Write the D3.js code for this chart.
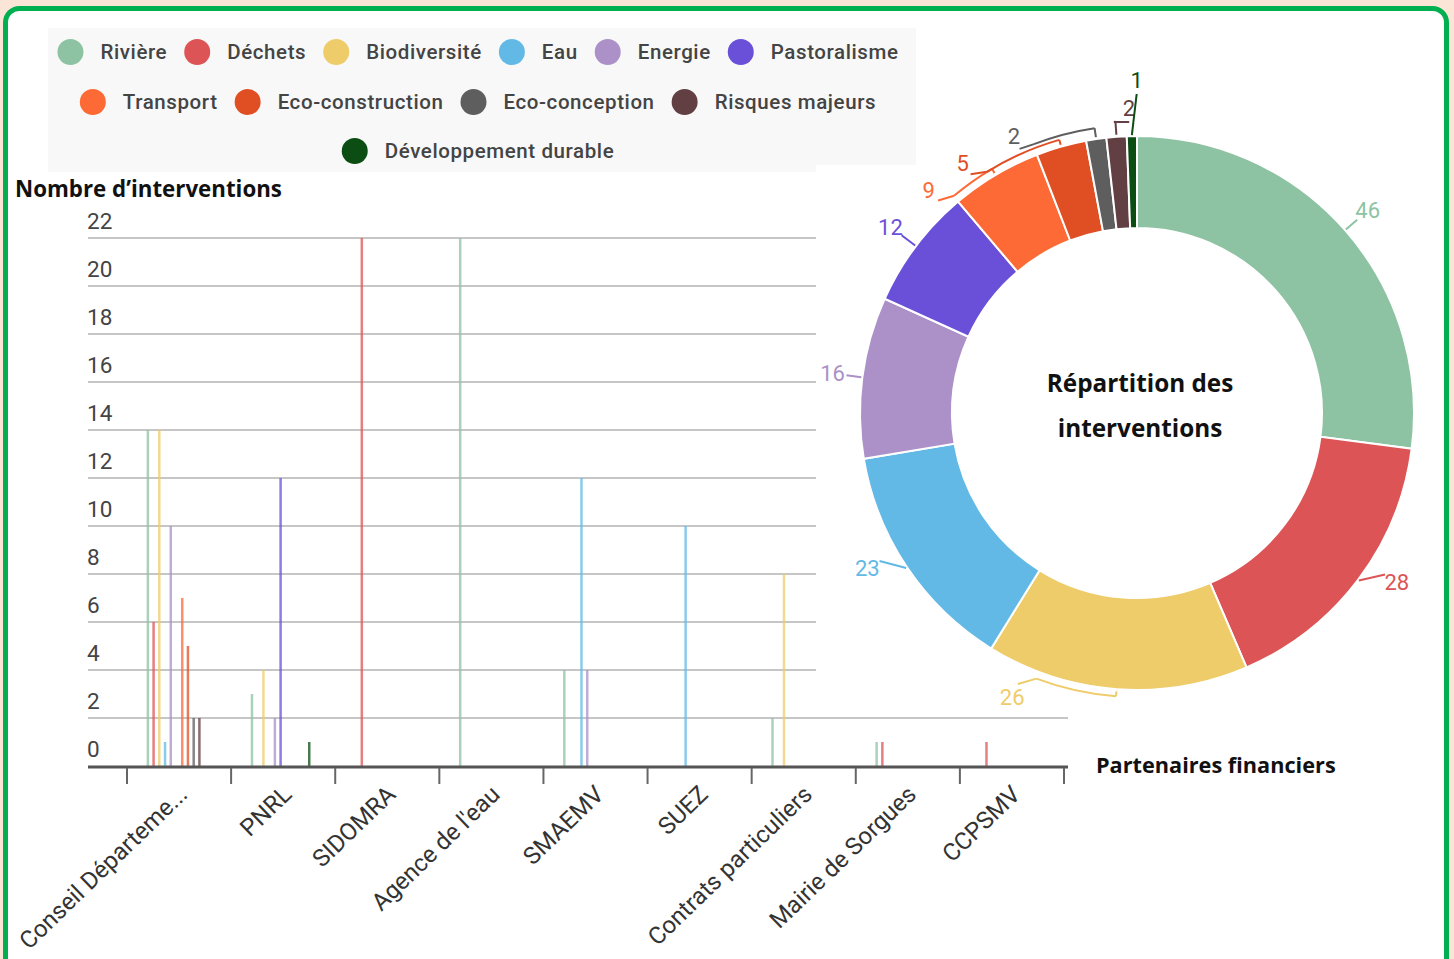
<!DOCTYPE html>
<html>
<head>
<meta charset="utf-8">
<script src="https://cdn.jsdelivr.net/npm/d3@7"></script>
<style>
	body { margin: 0; background: #fbe5d6; }
	svg { display: block; }
	text { font-family: Roboto, "Noto Sans", sans-serif; }
	.title { font-family: "Open Sans", "Noto Sans", sans-serif; font-weight: 700; fill: #111; }
</style>
</head>
<body>
<div id="chart"></div>
<script>

// partenaires financiers (x axis)
var categories = ["Conseil Départeme...", "PNRL", "SIDOMRA", "Agence de l'eau", "SMAEMV", "SUEZ", "Contrats particuliers", "Mairie de Sorgues", "CCPSMV"]

var series = ["Rivière", "Déchets", "Biodiversité", "Eau", "Energie", "Pastoralisme", "Transport", "Eco-construction", "Eco-conception", "Risques majeurs", "Développement durable"]

var colors = ["#8dc3a3", "#dc5455", "#efcc6a", "#62b9e5", "#ab91c8", "#6a50d8", "#fe6a35", "#e04f23", "#5e5e5e", "#613f42", "#0b4d13"]

// nombre d'interventions par partenaire, une liste par thème
var riviere         = [14, 3, 0, 22, 4, 0, 2, 1, 0]
var dechets         = [6, 0, 22, 0, 0, 0, 0, 1, 1]
var biodiversite    = [14, 4, 0, 0, 0, 0, 8, 0, 0]
var eau             = [1, 0, 0, 0, 12, 10, 0, 0, 0]
var energie         = [10, 2, 0, 0, 4, 0, 0, 0, 0]
var pastoralisme    = [0, 12, 0, 0, 0, 0, 0, 0, 0]
var transport       = [7, 0, 0, 0, 0, 0, 0, 0, 0]
var ecoConstruction = [5, 0, 0, 0, 0, 0, 0, 0, 0]
var ecoConception   = [2, 0, 0, 0, 0, 0, 0, 0, 0]
var risques         = [2, 0, 0, 0, 0, 0, 0, 0, 0]
var developpement   = [0, 1, 0, 0, 0, 0, 0, 0, 0]

// répartition des interventions (donut)
var repartition = [46, 28, 26, 23, 16, 12, 9, 5, 2, 2, 1]

var yTicks = [0, 2, 4, 6, 8, 10, 12, 14, 16, 18, 20, 22]

var valuesBySeries = [riviere, dechets, biodiversite, eau, energie, pastoralisme, transport, ecoConstruction, ecoConception, risques, developpement]

// label placement tweaks for the donut (degrees / px)
var labelNudge = [
	{ a: 0, r: 0 }, { a: -4, r: 3 }, { a: 19.5, r: 3, bracket: 7 }, { a: 4, r: 4 },
	{ a: 0, r: 0 }, { a: 0, r: 2 }, { a: -12.4, r: -2, bracket: 7 }, { a: -19, r: -2, bracket: 7 },
	{ a: -15.5, r: -4, bracket: 11 }, { a: 2.7, r: -2, bracket: 15 }, { a: 1, r: 26 }
]

var width = 1454, height = 959

var svg = d3.select("#chart").append("svg")
	.attr("width", width)
	.attr("height", height)

// frame
svg.append("rect")
	.attr("x", 5.5)
	.attr("y", 8.5)
	.attr("width", 1441)
	.attr("height", 980)
	.attr("rx", 14)
	.attr("fill", "#ffffff")
	.attr("stroke", "#00b050")
	.attr("stroke-width", 5)

// legend
svg.append("rect")
	.attr("x", 48)
	.attr("y", 28)
	.attr("width", 868)
	.attr("height", 144)
	.attr("fill", "#f8f8f8")

var legendRows = [series.slice(0, 6), series.slice(6, 10), series.slice(10)]
var legendY = [52, 102, 151]
var legendCenter = 478
var legendGap = 17

legendRows.forEach(function(row, r) {

	var g = svg.append("g")

	var x = 0

	row.forEach(function(name) {

		var i = series.indexOf(name)

		var item = g.append("g").attr("transform", "translate(" + x + ",0)")

		item.append("circle")
			.attr("cx", 13)
			.attr("cy", 0)
			.attr("r", 13)
			.attr("fill", colors[i])

		var t = item.append("text")
			.attr("x", 43)
			.attr("y", 0)
			.attr("dy", "0.36em")
			.attr("font-size", 20.5)
			.attr("font-weight", 500)
			.attr("letter-spacing", 0.6)
			.attr("fill", "#444")
			.text(name)

		x += 43 + t.node().getComputedTextLength() + legendGap

	})

	x -= legendGap

	g.attr("transform", "translate(" + (legendCenter - x / 2) + "," + legendY[r] + ")")

})

// bar chart
var yScale = d3.scaleLinear()
	.domain([0, 22])
	.range([766, 238])

var x0 = d3.scaleBand()
	.domain(categories)
	.range([127, 1064])

var x1 = d3.scaleBand()
	.domain(series)
	.range([18, 81])

svg.append("text")
	.attr("class", "title")
	.attr("x", 15)
	.attr("y", 197)
	.attr("font-size", 22.3)
	.text("Nombre d’interventions")

svg.selectAll(".grid")
	.data(yTicks.filter(function(d) { return d > 0 }))
	.enter()
	.append("line")
	.attr("class", "grid")
	.attr("x1", 88)
	.attr("x2", 1068)
	.attr("y1", function(d) { return yScale(d) })
	.attr("y2", function(d) { return yScale(d) })
	.attr("stroke", "#c6c6c6")
	.attr("stroke-width", 2)

svg.selectAll(".ylabel")
	.data(yTicks)
	.enter()
	.append("text")
	.attr("class", "ylabel")
	.attr("x", 87)
	.attr("y", function(d) { return yScale(d) - 9 })
	.attr("font-size", 22.5)
	.attr("fill", "#444")
	.text(function(d) { return d })

var bars = []

valuesBySeries.forEach(function(vals, s) {
	vals.forEach(function(v, c) {
		if (v > 0) bars.push({ cat: categories[c], serie: series[s], color: colors[s], value: v })
	})
})

svg.selectAll(".bar")
	.data(bars)
	.enter()
	.append("rect")
	.attr("class", "bar")
	.attr("x", function(d) { return x0(d.cat) + x1(d.serie) + x1.bandwidth() / 2 - 1.25 })
	.attr("y", function(d) { return yScale(d.value) })
	.attr("width", 2.5)
	.attr("height", function(d) { return yScale(0) - yScale(d.value) })
	.attr("fill", function(d) { return d.color })
	.attr("opacity", 0.75)

// x axis
svg.append("line")
	.attr("x1", 88)
	.attr("x2", 1068)
	.attr("y1", yScale(0) + 1)
	.attr("y2", yScale(0) + 1)
	.attr("stroke", "#555")
	.attr("stroke-width", 3)

var tickPos = categories.map(function(c) { return x0(c) }).concat([x0.range()[1]])

svg.selectAll(".xtick")
	.data(tickPos)
	.enter()
	.append("line")
	.attr("class", "xtick")
	.attr("x1", function(d) { return d })
	.attr("x2", function(d) { return d })
	.attr("y1", yScale(0) + 2)
	.attr("y2", yScale(0) + 18)
	.attr("stroke", "#666")
	.attr("stroke-width", 2)

svg.selectAll(".xlabel")
	.data(categories)
	.enter()
	.append("text")
	.attr("class", "xlabel")
	.attr("transform", function(d) { return "translate(" + (x0(d) + x0.bandwidth() / 2 + 4) + ",790) rotate(-44)" })
	.attr("text-anchor", "end")
	.attr("dy", "0.35em")
	.attr("font-size", 24)
	.attr("fill", "#333")
	.text(function(d) { return d })

svg.append("text")
	.attr("class", "title")
	.attr("x", 1096)
	.attr("y", 773)
	.attr("font-size", 21.7)
	.text("Partenaires financiers")

// donut panel (covers the gridlines, as in the original)
svg.append("rect")
	.attr("x", 816)
	.attr("y", 165)
	.attr("width", 626)
	.attr("height", 547)
	.attr("fill", "#ffffff")

var cx = 1137, cy = 413, outerR = 277, innerR = 185

var donut = svg.append("g").attr("transform", "translate(" + cx + "," + cy + ")")

var pie = d3.pie().sort(null).value(function(d) { return d })

var arcs = pie(repartition)

var arc = d3.arc().innerRadius(innerR).outerRadius(outerR)

donut.selectAll(".slice")
	.data(arcs)
	.enter()
	.append("path")
	.attr("class", "slice")
	.attr("d", arc)
	.attr("fill", function(d, i) { return colors[i] })
	.attr("stroke", "#fff")
	.attr("stroke-width", 2)

function polar(angle, r) {
	return [Math.sin(angle) * r, -Math.cos(angle) * r]
}

var rad = Math.PI / 180

arcs.forEach(function(d, i) {

	var mid = (d.startAngle + d.endAngle) / 2
	var n = labelNudge[i]
	var la = mid + n.a * rad
	var lr = outerR + 30 + n.r
	var p = polar(la, lr)
	var col = colors[i]

	if (n.bracket) {

		var br = outerR + n.bracket
		var end = la - Math.sign(n.a) * 3 * rad

		var bArc = d3.arc()
			.innerRadius(br)
			.outerRadius(br)
			.startAngle(Math.min(mid, end))
			.endAngle(Math.max(mid, end))

		donut.append("path")
			.attr("d", bArc())
			.attr("fill", "none")
			.attr("stroke", col)
			.attr("stroke-width", 2)

		var t1 = polar(mid, br), t2 = polar(mid, outerR + 2)

		donut.append("line")
			.attr("x1", t1[0]).attr("y1", t1[1])
			.attr("x2", t2[0]).attr("y2", t2[1])
			.attr("stroke", col)
			.attr("stroke-width", 2)

		var s1 = polar(end, br), s2 = polar(la, lr - 14)

		donut.append("line")
			.attr("x1", s1[0]).attr("y1", s1[1])
			.attr("x2", s2[0]).attr("y2", s2[1])
			.attr("stroke", col)
			.attr("stroke-width", 2)

	} else {

		var a1 = polar(mid, outerR + 1), a2 = polar(la, lr - 14)

		donut.append("line")
			.attr("x1", a1[0]).attr("y1", a1[1])
			.attr("x2", a2[0]).attr("y2", a2[1])
			.attr("stroke", col)
			.attr("stroke-width", 2)

	}

	donut.append("text")
		.attr("x", p[0])
		.attr("y", p[1])
		.attr("text-anchor", "middle")
		.attr("dy", "0.36em")
		.attr("font-size", 22)
		.attr("fill", col)
		.text(d.data)

})

donut.append("text")
	.attr("class", "title")
	.attr("text-anchor", "middle")
	.attr("x", 3)
	.attr("y", -21)
	.attr("font-size", 24.3)
	.text("Répartition des")

donut.append("text")
	.attr("class", "title")
	.attr("text-anchor", "middle")
	.attr("x", 3)
	.attr("y", 24)
	.attr("font-size", 24.3)
	.text("interventions")

</script>
</body>
</html>
